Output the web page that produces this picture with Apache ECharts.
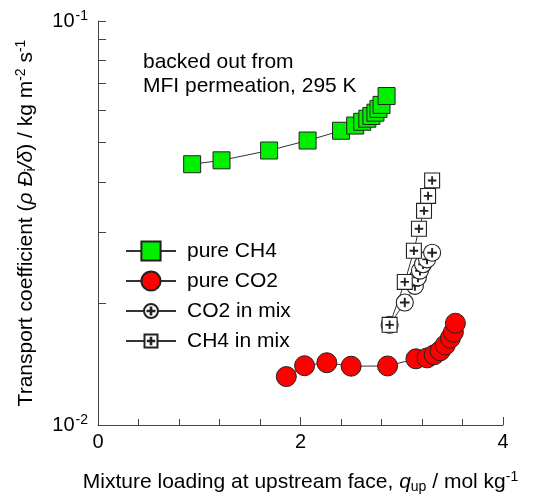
<!DOCTYPE html>
<html>
<head>
<meta charset="utf-8">
<script src="https://cdn.jsdelivr.net/npm/echarts@6/dist/echarts.min.js"></script>
<style>
  html, body { margin: 0; padding: 0; background: #fff; }
  #chart { width: 533px; height: 499px; }
</style>
</head>
<body>
<div id="chart"></div>
<script>
// Transport coefficients backed out from MFI permeation at 295 K
const seriesNames = ['pure CH4', 'pure CO2', 'CO2 in mix', 'CH4 in mix'];

const ch4PureX = [0.93, 1.22, 1.69, 2.07, 2.40, 2.54, 2.61, 2.66, 2.70, 2.74, 2.77, 2.80, 2.85];
const ch4PureY = [0.0442, 0.0452, 0.0478, 0.0506, 0.0535, 0.0551, 0.0563, 0.0573, 0.0582, 0.0593, 0.0606, 0.0620, 0.0652];

const co2PureX = [1.86, 2.04, 2.26, 2.50, 2.86, 3.14, 3.25, 3.32, 3.38, 3.43, 3.48, 3.51, 3.53];
const co2PureY = [0.01318, 0.01402, 0.01426, 0.01398, 0.01400, 0.01458, 0.01466, 0.01492, 0.01526, 0.01578, 0.01641, 0.01697, 0.01786];

const co2MixX = [2.88, 3.03, 3.13, 3.16, 3.18, 3.21, 3.25, 3.30];
const co2MixY = [0.0177, 0.0201, 0.0221, 0.0232, 0.0241, 0.0250, 0.0257, 0.0267];

const ch4MixX = [2.88, 3.03, 3.12, 3.17, 3.22, 3.26, 3.30];
const ch4MixY = [0.0177, 0.0226, 0.0270, 0.0306, 0.0339, 0.0369, 0.0403];

const xTickLabels = [0, 2, 4];
const yTickValues = [0.01, 0.02, 0.03, 0.04, 0.05, 0.06, 0.07, 0.08, 0.09, 0.1];
const yLabelValues = [0.01, 0.1];

const FONT = '"Liberation Sans", Arial, Helvetica, sans-serif';

// open markers with a bold "+" inside; the outer move points pad the box
const crossPath = 'M-5,-0.5 L-0.5,-0.5 L-0.5,-5 L0.5,-5 L0.5,-0.5 L5,-0.5 L5,0.5 L0.5,0.5 L0.5,5 L-0.5,5 L-0.5,0.5 L-5,0.5 Z';
const circlePlus = 'path://M-13.7,-13.7 M13.7,13.7 M10,0 A10,10 0 1,1 -10,0 A10,10 0 1,1 10,0 Z ' + crossPath;
const squarePlus = 'path://M-14.8,-14.8 M14.8,14.8 M-10,-10 L10,-10 L10,10 L-10,10 Z ' + crossPath;

function zip(xs, ys) { return xs.map((x, i) => [x, ys[i]]); }

const lineStyle = { color: '#333', width: 1 };

const chart = echarts.init(document.getElementById('chart'), null, { renderer: 'canvas' });

chart.setOption({
  animation: false,
  backgroundColor: '#fff',
  grid: { left: 98, right: 30, top: 21, bottom: 68 },
  xAxis: {
    type: 'value',
    min: 0, max: 4, interval: 2,
    axisLine: { show: true, lineStyle: { color: '#444', width: 1 } },
    axisTick: { show: true, inside: true, length: 8, lineStyle: { color: '#444' } },
    minorTick: { show: true, splitNumber: 5, length: 6, lineStyle: { color: '#444' } },
    splitLine: { show: false },
    axisLabel: {
      margin: 7, fontSize: 20, fontFamily: FONT, color: '#000',
      customValues: xTickLabels,
      formatter: v => String(v)
    },
    name: 'Mixture loading at upstream face, {i|q}{sub|up} / mol kg{sup|-1}',
    nameLocation: 'middle',
    nameGap: 45,
    nameTextStyle: {
      fontSize: 21, fontFamily: FONT, color: '#000',
      rich: {
        i: { fontSize: 21, fontFamily: FONT, fontStyle: 'italic', color: '#000' },
        sub: { fontSize: 14, fontFamily: FONT, color: '#000', padding: [10, 0, 0, 0] },
        sup: { fontSize: 14, fontFamily: FONT, color: '#000', padding: [0, 0, 10, 0] }
      }
    }
  },
  yAxis: {
    type: 'log',
    logBase: 10,
    min: 0.01, max: 0.1,
    axisLine: { show: true, lineStyle: { color: '#444', width: 1 } },
    axisTick: { show: true, inside: true, length: 8, customValues: yTickValues, lineStyle: { color: '#444' } },
    splitLine: { show: false },
    axisLabel: {
      margin: 10, fontSize: 20, fontFamily: FONT, color: '#000',
      customValues: yLabelValues,
      formatter: v => '10{sup|-' + Math.abs(Math.round(Math.log10(v))) + '}',
      rich: {
        sup: { fontSize: 14, fontFamily: FONT, color: '#000', padding: [0, 0, 10, 1] }
      }
    },
    name: 'Transport coefficient ({i|ρ Đ}{sub|i}{i|/δ}) / kg m{sup|-2} s{sup|-1}',
    nameLocation: 'middle',
    nameRotate: 90,
    nameGap: 60,
    nameTextStyle: {
      fontSize: 21, fontFamily: FONT, color: '#000',
      rich: {
        i: { fontSize: 21, fontFamily: FONT, fontStyle: 'italic', color: '#000' },
        sub: { fontSize: 14, fontFamily: FONT, color: '#000', padding: [10, 0, 0, 0] },
        sup: { fontSize: 14, fontFamily: FONT, color: '#000', padding: [0, 0, 10, 0] }
      }
    }
  },
  legend: {
    orient: 'vertical',
    left: 120, top: 234,
    itemWidth: 50, itemHeight: 24, itemGap: 6,
    data: seriesNames,
    textStyle: { fontSize: 21, fontFamily: FONT, color: '#000', lineHeight: 24, padding: [0, 0, 0, 6] }
  },
  graphic: [{
    type: 'text',
    left: 143, top: 50,
    style: {
      text: 'backed out from\nMFI permeation, 295 K',
      font: '21px ' + FONT,
      lineHeight: 24,
      fill: '#000'
    }
  }],
  series: [
    {
      name: seriesNames[0], type: 'line',
      data: zip(ch4PureX, ch4PureY),
      symbol: 'rect', symbolSize: 17,
      lineStyle: lineStyle,
      itemStyle: { color: '#00f000', borderColor: '#222', borderWidth: 1 }
    },
    {
      name: seriesNames[1], type: 'line',
      data: zip(co2PureX, co2PureY),
      symbol: 'circle', symbolSize: 20,
      lineStyle: lineStyle,
      itemStyle: { color: '#ff0000', borderColor: '#222', borderWidth: 1 }
    },
    {
      name: seriesNames[2], type: 'line',
      data: zip(co2MixX, co2MixY),
      symbol: circlePlus, symbolSize: 23.3,
      lineStyle: lineStyle,
      itemStyle: { color: '#fff', borderColor: '#222', borderWidth: 1.1 }
    },
    {
      name: seriesNames[3], type: 'line',
      data: zip(ch4MixX, ch4MixY),
      symbol: squarePlus, symbolSize: 22.1,
      lineStyle: lineStyle,
      itemStyle: { color: '#fff', borderColor: '#222', borderWidth: 1.1 }
    }
  ]
});
</script>
</body>
</html>
